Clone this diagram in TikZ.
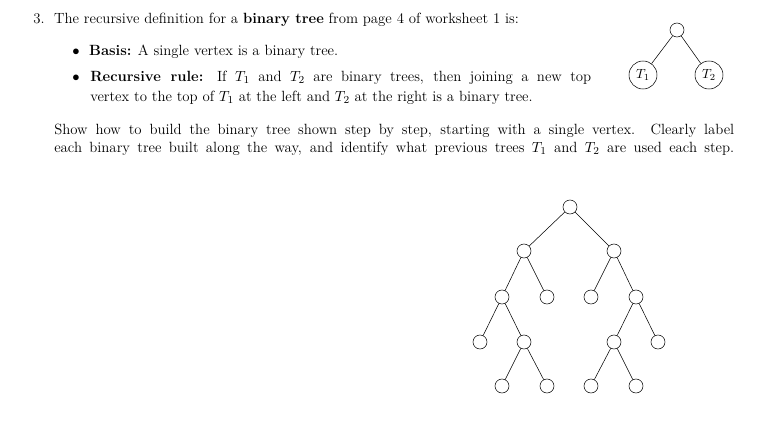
\documentclass[tikz,border=0pt]{standalone}
\begin{document}
\begin{tikzpicture}[x=0.75pt,y=-0.75pt,
  v/.style={circle,draw,inner sep=0pt,minimum size=10.5pt},
  big/.style={circle,draw,inner sep=0pt,minimum size=21pt},
  txt/.style={anchor=base west,inner sep=0pt,font=\fontsize{11.1}{13.6}\selectfont}]
\useasboundingbox (0,0) rectangle (761,422);
\node[txt] (l1) at (33,23) {3.\ \ The recursive definition for a \textbf{binary tree} from page 4 of worksheet 1 is:};
\node[txt] (b1) at (72,55) {$\bullet$\ \ \textbf{Basis:} A single vertex is a binary tree.};
\node[txt] (bb) at (72,81) {$\bullet$};
\node[txt] (b2) at (90,81) {\makebox[375.75pt][s]{\textbf{Recursive rule:} If $T_1$ and $T_2$ are binary trees, then joining a new top}};
\node[txt] (b3) at (90,101) {vertex to the top of $T_1$ at the left and $T_2$ at the right is a binary tree.};
\node[txt] (s1) at (54,134) {\makebox[510pt][s]{Show how to build the binary tree shown step by step, starting with a single vertex. Clearly label}};
\node[txt] (s2) at (54,152) {\makebox[510pt][s]{each binary tree built along the way, and identify what previous trees $T_1$ and $T_2$ are used each step.}};
% small tree
\node[v] (r) at (677,30) {};
\node[big] (t1) at (643,75) {$T_1$};
\node[big] (t2) at (709,75) {$T_2$};
\draw (r)--(t1) (r)--(t2);
% big tree
\node[v] (a) at (570,207) {};
\node[v] (b) at (524,251) {};
\node[v] (c) at (614,251) {};
\node[v] (d) at (502,297) {};
\node[v] (e) at (547,297) {};
\node[v] (f) at (591,297) {};
\node[v] (g) at (636,297) {};
\node[v] (h) at (480,342) {};
\node[v] (i) at (524,342) {};
\node[v] (j) at (614,342) {};
\node[v] (k) at (658,342) {};
\node[v] (l) at (502,386) {};
\node[v] (m) at (547,386) {};
\node[v] (n) at (591,386) {};
\node[v] (o) at (636,386) {};
\draw (a)--(b) (a)--(c) (b)--(d) (b)--(e) (c)--(f) (c)--(g)
 (d)--(h) (d)--(i) (g)--(j) (g)--(k) (i)--(l) (i)--(m) (j)--(n) (j)--(o);
\end{tikzpicture}
\end{document}
